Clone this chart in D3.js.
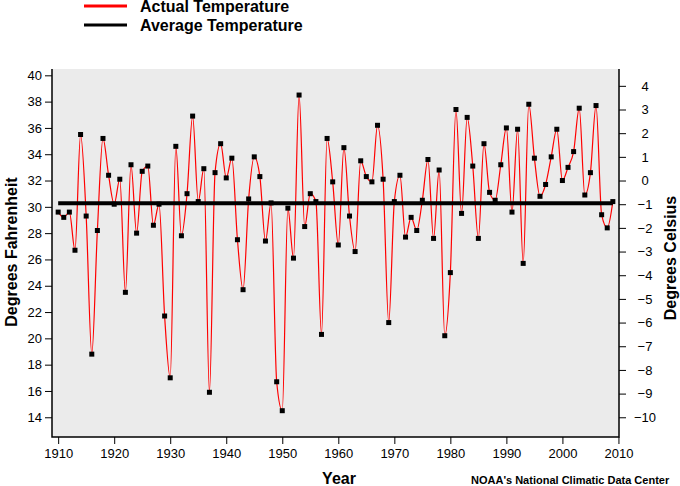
<!DOCTYPE html>
<html>
<head>
<meta charset="utf-8">
<script src="https://cdn.jsdelivr.net/npm/d3@7"></script>
<style>
  body { margin: 0; background: #fff; }
  svg { display: block; font-family: "Liberation Sans", Arial, sans-serif; }
</style>
</head>
<body>
<svg id="chart" width="680" height="486"></svg>
<script>
// Years and annual temperatures (deg F)
var years = d3.range(1910, 2010);
var temps = [
  29.6, 29.2, 29.6, 26.7, 35.5, 29.3, 18.8, 28.2, 35.2, 32.4,
  30.2, 32.1, 23.5, 33.2, 28.0, 32.7, 33.1, 28.6, 30.2, 21.7,
  17.0, 34.6, 27.8, 31.0, 36.9, 30.4, 32.9, 15.9, 32.6, 34.8,
  32.2, 33.7, 27.5, 23.7, 30.6, 33.8, 32.3, 27.4, 30.3, 16.7,
  14.5, 29.9, 26.1, 38.5, 28.5, 31.0, 30.4, 20.3, 35.2, 31.9,
  27.1, 34.5, 29.3, 26.6, 33.5, 32.3, 31.9, 36.2, 32.1, 21.2,
  30.4, 32.4, 27.7, 29.2, 28.2, 30.5, 33.6, 27.6, 32.8, 20.2,
  25.0, 37.4, 29.5, 36.8, 33.1, 27.6, 34.8, 31.1, 30.5, 33.2,
  36.0, 29.6, 35.9, 25.7, 37.8, 33.7, 30.8, 31.7, 33.8, 35.9,
  32.0, 33.0, 34.2, 37.5, 30.9, 32.6, 37.7, 29.4, 28.4, 30.4
];
var average = 30.27;
var fTicks = d3.range(14, 41, 2);
var cTicks = d3.range(-10, 5, 1);
var yearTicks = d3.range(1910, 2011, 10);

var svg = d3.select("#chart");

// plot frame
var pLeft = 52, pRight = 619, pTop = 69, pBottom = 437;

var x = d3.scaleLinear().domain([1908.9, 2010.1]).range([pLeft, pRight]);
var y = d3.scaleLinear().domain([12.5, 40.48]).range([pBottom, pTop]);
var toC = function(f) { return (f - 32) * 5 / 9; };
var yC = d3.scaleLinear().domain([toC(12.5), toC(40.48)]).range([pBottom, pTop]);

// gray background
svg.append("rect")
  .attr("x", pLeft).attr("y", pTop)
  .attr("width", pRight - pLeft).attr("height", pBottom - pTop)
  .attr("fill", "#ebebeb");

// axes
var fmtAxis = function(g) {
  g.select(".domain").remove();
  g.selectAll("line").attr("stroke", "#000");
  g.selectAll("text").attr("fill", "#000").style("font-size", "13px")
    .style("font-family", "'Liberation Sans', Arial, sans-serif");
};

svg.append("g")
  .attr("transform", "translate(" + pLeft + ",0)")
  .call(d3.axisLeft(y).tickValues(fTicks).tickSize(7).tickPadding(3))
  .call(fmtAxis);

svg.append("g")
  .attr("transform", "translate(" + pRight + ",0)")
  .call(d3.axisRight(yC).tickValues(cTicks).tickSize(7).tickPadding(0))
  .call(fmtAxis)
  .call(function(g) {
    g.selectAll("text").attr("text-anchor", "middle").attr("x", 26);
  });

svg.append("g")
  .attr("transform", "translate(0," + pBottom + ")")
  .call(d3.axisBottom(x).tickValues(yearTicks).tickFormat(d3.format("d")).tickSize(7).tickPadding(5))
  .call(fmtAxis);

// axis lines (left, bottom, right)
svg.append("path")
  .attr("d", "M" + pLeft + "," + pTop + "V" + pBottom + "H" + pRight + "V" + pTop)
  .attr("fill", "none").attr("stroke", "#000").attr("stroke-width", 1.5);

// actual temperature line
var line = d3.line()
  .x(function(d, i) { return x(years[i]); })
  .y(function(d) { return y(d); })
  .curve(d3.curveMonotoneX);

svg.append("path")
  .datum(temps)
  .attr("d", line)
  .attr("fill", "none")
  .attr("stroke", "#ff0000")
  .attr("stroke-width", 1.2);

// average line
svg.append("line")
  .attr("x1", x(years[0])).attr("x2", x(years[years.length - 1]))
  .attr("y1", y(average)).attr("y2", y(average))
  .attr("stroke", "#000").attr("stroke-width", 4);

// markers
svg.selectAll("rect.pt")
  .data(temps)
  .enter()
  .append("rect")
  .attr("class", "pt")
  .attr("x", function(d, i) { return x(years[i]) - 2.5; })
  .attr("y", function(d) { return y(d) - 2.5; })
  .attr("width", 5).attr("height", 5)
  .attr("fill", "#000");

// legend
var legend = [
  {label: "Actual Temperature", color: "#ff0000", y: 6},
  {label: "Average Temperature", color: "#000", y: 25}
];
legend.forEach(function(l) {
  svg.append("line")
    .attr("x1", 84).attr("x2", 127)
    .attr("y1", l.y).attr("y2", l.y)
    .attr("stroke", l.color).attr("stroke-width", 3);
  svg.append("text")
    .attr("x", 140).attr("y", l.y + 6)
    .style("font-size", "16px")
    .style("font-weight", "bold")
    .text(l.label);
});

// axis titles
svg.append("text")
  .attr("transform", "translate(17,252) rotate(-90)")
  .attr("text-anchor", "middle")
  .style("font-size", "16px").style("font-weight", "bold")
  .text("Degrees Fahrenheit");

svg.append("text")
  .attr("transform", "translate(676,258) rotate(-90)")
  .attr("text-anchor", "middle")
  .style("font-size", "16px").style("font-weight", "bold")
  .text("Degrees Celsius");

svg.append("text")
  .attr("x", 339).attr("y", 484)
  .attr("text-anchor", "middle")
  .style("font-size", "16px").style("font-weight", "bold")
  .text("Year");

svg.append("text")
  .attr("x", 471).attr("y", 484)
  .style("font-size", "11px").style("font-weight", "bold")
  .text("NOAA's National Climatic Data Center");
</script>
</body>
</html>
